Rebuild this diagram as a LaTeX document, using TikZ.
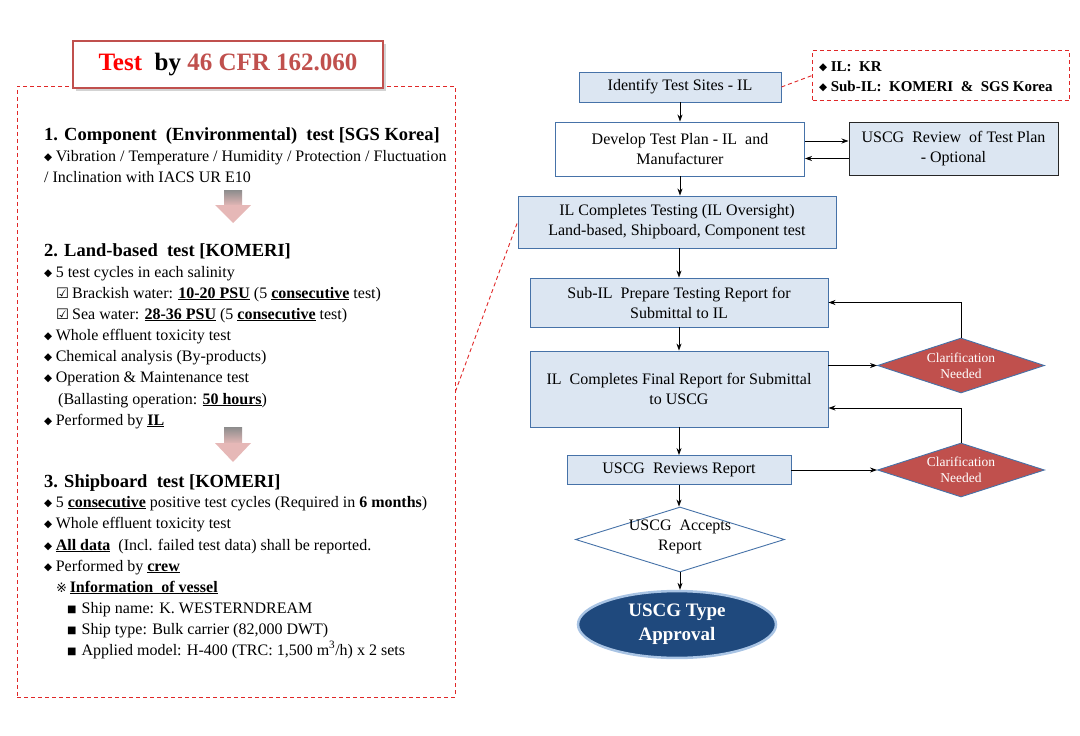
\documentclass[tikz,border=0pt]{standalone}
\usepackage{fontspec}
\setmainfont{Liberation Serif}
\newfontfamily\symf{DejaVu Sans}
\usetikzlibrary{shapes.geometric,shadows,arrows.meta}
\definecolor{boxfill}{HTML}{DCE6F2}
\definecolor{boxborder}{HTML}{4672A8}
\definecolor{darkred}{HTML}{C0504D}
\definecolor{dashred}{HTML}{E02828}
\definecolor{navy}{HTML}{1F497D}
\definecolor{glow}{HTML}{A9C4E4}
\definecolor{pinkarr}{HTML}{E6B8B7}
\newcommand{\dbul}{\raisebox{0.8pt}{\symf\fontsize{10.5}{10.5}\selectfont ◆}\hspace{3.5pt}}
\newcommand{\cbox}{{\symf\fontsize{14.5}{14.5}\selectfont ☑}\hspace{3pt}}
\newcommand{\sqbul}{\raisebox{0.5pt}{\symf\fontsize{10}{10}\selectfont ■}\hspace{5pt}}
\newcommand{\refmark}{{\symf\fontsize{13}{13}\selectfont ※}}
\newcommand{\bu}[1]{\textbf{\underline{#1}}}
\begin{document}
\begin{tikzpicture}[x=1pt,y=-1pt,
  txt/.style={anchor=base west,inner sep=0pt,font=\fontsize{16}{18}\selectfont},
  head/.style={anchor=base west,inner sep=0pt,font=\bfseries\fontsize{18.5}{20}\selectfont},
  bluebox/.style={draw=boxborder,fill=boxfill,line width=0.9pt,align=center,
     font=\fontsize{16}{20}\selectfont,inner sep=2pt},
  whitebox/.style={bluebox,fill=white},
  revbox/.style={bluebox,draw=black!85,line width=1pt},
  clar/.style={diamond,aspect=3,fill=darkred,draw=boxborder,line width=0.9pt,inner sep=0pt,
     text=white,align=center,font=\fontsize{13.5}{16}\selectfont,minimum width=167pt},
  arr/.style={-{Stealth[length=7pt,width=5pt]},black,line width=0.8pt},
  reddash/.style={draw=dashred,dashed,line width=0.9pt,dash pattern=on 4pt off 3pt}
]
\useasboundingbox (0,0) rectangle (1080,736);

% ---------- left panel ----------
\node[reddash,minimum width=438pt,minimum height=611pt,inner sep=0pt] (leftbox) at (236,391.5) {};
\node[draw=darkred,line width=1.5pt,fill=white,minimum width=310pt,minimum height=47pt,
      drop shadow={opacity=0.35,shadow xshift=3pt,shadow yshift=-3pt},
      font=\bfseries\fontsize{25}{27}\selectfont] (title) at (228,64.5)
  {\textcolor{red}{Test}\ \ by\ \textcolor{darkred}{46 CFR 162.060}};

\node[head] (h1) at (44,140) {1. Component \ (Environmental) \ test [SGS Korea]};
\node[txt] (l11) at (44,161) {\dbul Vibration / Temperature / Humidity / Protection / Fluctuation};
\node[txt] (l12) at (44,182) {/ Inclination with IACS UR E10};

% pink arrow 1
\shade[top color=black!45,bottom color=pinkarr] (224,190) rectangle (242,206);
\fill[pinkarr] (215,205) -- (251,205) -- (233,223) -- cycle;

\node[head] (h2) at (44,256) {2. Land-based \ test [KOMERI]};
\node[txt] (l21) at (44,277) {\dbul 5 test cycles in each salinity};
\node[txt] (l22) at (56,298) {\cbox Brackish water: \bu{10-20 PSU} (5 \bu{consecutive} test)};
\node[txt] (l23) at (56,319) {\cbox Sea water: \bu{28-36 PSU} (5 \bu{consecutive} test)};
\node[txt] (l24) at (44,340) {\dbul Whole effluent toxicity test};
\node[txt] (l25) at (44,361) {\dbul Chemical analysis (By-products)};
\node[txt] (l26) at (44,382) {\dbul Operation \& Maintenance test};
\node[txt] (l27) at (58,404) {(Ballasting operation: \bu{50 hours})};
\node[txt] (l28) at (44,425) {\dbul Performed by \bu{IL}};

% pink arrow 2
\shade[top color=black!45,bottom color=pinkarr] (224,427) rectangle (242,444);
\fill[pinkarr] (215,443) -- (251,443) -- (233,462) -- cycle;

\node[head] (h3) at (44,487) {3. Shipboard \ test [KOMERI]};
\node[txt] (l31) at (44,507) {\dbul 5 \bu{consecutive} positive test cycles (Required in \textbf{6 months})};
\node[txt] (l32) at (44,528) {\dbul Whole effluent toxicity test};
\node[txt] (l33) at (44,550) {\dbul \bu{All data} \ (Incl. failed test data) shall be reported.};
\node[txt] (l34) at (44,571) {\dbul Performed by \bu{crew}};
\node[txt] (l35) at (56,592) {\refmark\,\bu{Information \ of vessel}};
\node[txt] (l36) at (67,613) {\sqbul Ship name: K. WESTERNDREAM};
\node[txt] (l37) at (67,634) {\sqbul Ship type: Bulk carrier (82,000 DWT)};
\node[txt] (l38) at (67,655) {\sqbul Applied model: H-400 (TRC: 1,500 m\textsuperscript{3}/h) x 2 sets};

% ---------- right flowchart ----------
\node[bluebox,minimum width=202pt,minimum height=30pt] (ident) at (680,87) {Identify Test Sites - IL};
\node[reddash,minimum width=257pt,minimum height=50pt,inner sep=0pt] (ilbox) at (941,75.5) {};
\node[anchor=base west,inner sep=0pt,font=\bfseries\fontsize{15}{16}\selectfont] (il1) at (819,71) {\dbul IL: \ KR};
\node[anchor=base west,inner sep=0pt,font=\bfseries\fontsize{15}{16}\selectfont] (il2) at (819,91) {\dbul Sub-IL: \ KOMERI \ \& \ SGS Korea};
\draw[reddash] (ident.east) -- (ilbox.west);

\node[whitebox,minimum width=249pt,minimum height=54pt] (develop) at (680,149) {Develop Test Plan - IL \ and\\Manufacturer};
\node[revbox,minimum width=209pt,minimum height=53pt] (review) at (953.5,148.5) {USCG \ Review \ of Test Plan\\- Optional};
\node[bluebox,minimum width=318pt,minimum height=52pt] (test) at (677,222) {IL Completes Testing (IL Oversight)\\Land-based, Shipboard, Component test};
\node[bluebox,minimum width=298pt,minimum height=49pt] (subil) at (679,302.5) {Sub-IL \ Prepare Testing Report for\\Submittal to IL};
\node[bluebox,minimum width=298pt,minimum height=76pt] (final) at (679,389) {IL \ Completes Final Report for Submittal\\to USCG};
\node[bluebox,minimum width=224pt,minimum height=29pt] (reviews) at (679,470) {USCG \ Reviews Report};
\node[diamond,aspect=3.2,draw=boxborder,fill=white,line width=0.9pt,inner sep=0pt,
      minimum width=209pt,minimum height=65pt] (accepts) at (680,539.5) {};
\node[align=center,inner sep=0pt,font=\fontsize{16}{20}\selectfont] (acceptstxt) at (680,537) {USCG \ Accepts\\Report};
\node[ellipse,fill=navy,draw=glow,line width=2.5pt,minimum width=198pt,minimum height=63pt,
      text=white,align=center,font=\bfseries\fontsize{19}{24}\selectfont] (approval) at (677,624.5) {USCG Type\\Approval};
\node[clar,minimum height=55pt] (d1) at (961,365.5) {Clarification\\Needed};
\node[clar,minimum height=54pt] (d2) at (961,470) {Clarification\\Needed};

\draw[reddash] (leftbox.east) -- (test.west);

\draw[arr] (ident.south) -- (ident.south |- develop.north);
\draw[arr] (develop.south) -- (develop.south |- test.north);
\draw[arr] (test.south -| subil.north) -- (subil.north);
\draw[arr] (subil.south) -- (final.north);
\draw[arr] (final.south) -- (reviews.north);
\draw[arr] (reviews.south) -- (reviews.south |- accepts.north);
\draw[arr] (accepts.south) -- (accepts.south |- approval.north);
\draw[arr] ([yshift=8pt]develop.east) -- ([yshift=8pt]develop.east -| review.west);
\draw[arr] ([yshift=-10pt]review.west) -- ([yshift=-10pt]review.west -| develop.east);
\draw[arr] (final.east |- d1.west) -- (d1.west);
\draw[arr] (d1.north) |- (subil.east);
\draw[arr] (reviews.east) -- (d2.west);
\draw[arr] (d2.north) |- ([yshift=-19pt]final.east);
\end{tikzpicture}
\end{document}
